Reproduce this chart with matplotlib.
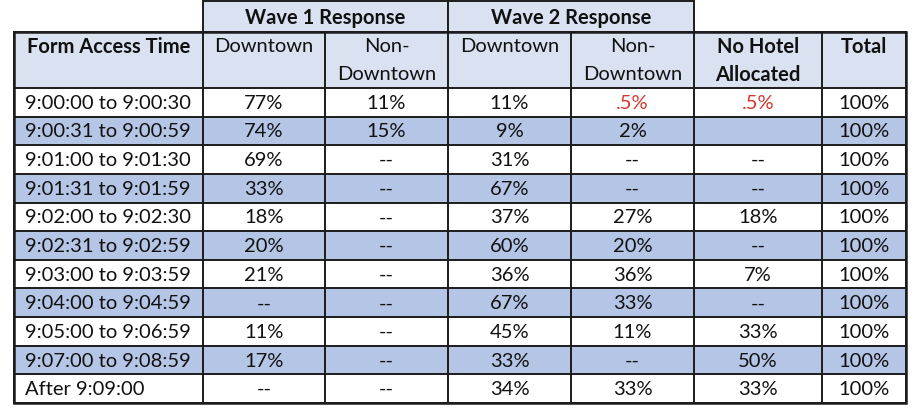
import matplotlib.pyplot as plt
from matplotlib.patches import Rectangle

plt.rcParams['font.family'] = ['Lato', 'DejaVu Sans']

# table content
group_headers = ['Wave 1 Response', 'Wave 2 Response']
col_headers = ['Form Access Time', 'Downtown', 'Non-\nDowntown', 'Downtown',
               'Non-\nDowntown', 'No Hotel\nAllocated', 'Total']
bold_headers = [True, False, False, False, False, True, True]
row_labels = ['9:00:00 to 9:00:30', '9:00:31 to 9:00:59', '9:01:00 to 9:01:30',
              '9:01:31 to 9:01:59', '9:02:00 to 9:02:30', '9:02:31 to 9:02:59',
              '9:03:00 to 9:03:59', '9:04:00 to 9:04:59', '9:05:00 to 9:06:59',
              '9:07:00 to 9:08:59', 'After 9:09:00']
wave1_downtown = ['77%', '74%', '69%', '33%', '18%', '20%', '21%', '--', '11%', '17%', '--']
wave1_non = ['11%', '15%', '--', '--', '--', '--', '--', '--', '--', '--', '--']
wave2_downtown = ['11%', '9%', '31%', '67%', '37%', '60%', '36%', '67%', '45%', '33%', '34%']
wave2_non = ['.5%', '2%', '--', '--', '27%', '20%', '36%', '33%', '11%', '--', '33%']
no_hotel = ['.5%', '', '--', '--', '18%', '--', '7%', '--', '33%', '50%', '33%']
total = ['100%'] * 11
highlight = {(0, 4), (0, 5)}  # red cells

# layout (pixel coords)
col_edges = [14, 203, 325, 448, 571, 694, 822, 906]
y_top, y_head, y_data, y_bot = 1, 32, 88, 403
head_lines = [47, 75]
header_fill = '#dae2f2'
stripe_fill = '#b5c5e5'
line_col = '#1c1c1c'
text_col = '#111111'
red = '#d6362e'

fig = plt.figure(figsize=(9.24, 4.15), dpi=100)
ax = fig.add_axes([0, 0, 1, 1])
ax.set_xlim(0, 924)
ax.set_ylim(415, 0)
ax.axis('off')

columns = [wave1_downtown, wave1_non, wave2_downtown, wave2_non, no_hotel, total]
n_rows = len(row_labels)
row_h = (y_bot - y_data) / n_rows
fs = 14.5

# group header row
for g, name in enumerate(group_headers):
    x0, x1 = col_edges[1 + 2 * g], col_edges[3 + 2 * g]
    ax.add_patch(Rectangle((x0, y_top), x1 - x0, y_head - y_top,
                           facecolor=header_fill, edgecolor=line_col, lw=1.4))
    ax.text((x0 + x1) / 2, (y_top + y_head) / 2 + 1, name, ha='center', va='center',
            fontsize=fs, fontweight='bold', color=text_col)

# column header row
ax.add_patch(Rectangle((col_edges[0], y_head), col_edges[-1] - col_edges[0], y_data - y_head,
                       facecolor=header_fill, edgecolor='none'))
for c, name in enumerate(col_headers):
    x0, x1 = col_edges[c], col_edges[c + 1]
    for i, line in enumerate(name.split('\n')):
        ax.text((x0 + x1) / 2, head_lines[i], line, ha='center', va='center', fontsize=fs,
                fontweight='bold' if bold_headers[c] else 'normal', color=text_col)

# data rows
for r in range(n_rows):
    y0 = y_data + r * row_h
    if r % 2 == 1:
        ax.add_patch(Rectangle((col_edges[0], y0), col_edges[-1] - col_edges[0], row_h,
                               facecolor=stripe_fill, edgecolor='none'))
    yc = y0 + row_h / 2 + 1
    ax.text(col_edges[0] + 11, yc, row_labels[r], ha='left', va='center',
            fontsize=fs, color=text_col)
    for c, vals in enumerate(columns):
        x0, x1 = col_edges[c + 1], col_edges[c + 2]
        color = red if (r, c + 1) in highlight else text_col
        ax.text((x0 + x1) / 2, yc, vals[r], ha='center', va='center',
                fontsize=fs, color=color)

# grid lines
for x in col_edges:
    ax.plot([x, x], [y_head, y_bot], color=line_col, lw=1.4, solid_capstyle='projecting')
for y in [y_head, y_data] + [y_data + i * row_h for i in range(1, n_rows + 1)]:
    ax.plot([col_edges[0], col_edges[-1]], [y, y], color=line_col, lw=1.4,
            solid_capstyle='projecting')

# heavier outer border
ax.add_patch(Rectangle((col_edges[0], y_head), col_edges[-1] - col_edges[0], y_bot - y_head,
                       facecolor='none', edgecolor=line_col, lw=1.8))

fig.savefig('out.png', dpi=100, facecolor='white')
